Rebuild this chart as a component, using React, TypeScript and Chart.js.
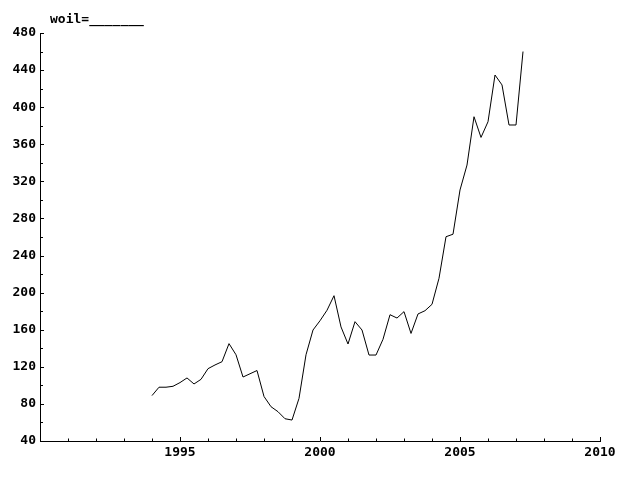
import React, { useEffect, useRef } from "react";
import { Chart, registerables } from "chart.js";

Chart.register(...registerables);

const periods: number[] = [
  1994.0, 1994.25, 1994.5, 1994.75,
  1995.0, 1995.25, 1995.5, 1995.75,
  1996.0, 1996.25, 1996.5, 1996.75,
  1997.0, 1997.25, 1997.5, 1997.75,
  1998.0, 1998.25, 1998.5, 1998.75,
  1999.0, 1999.25, 1999.5, 1999.75,
  2000.0, 2000.25, 2000.5, 2000.75,
  2001.0, 2001.25, 2001.5, 2001.75,
  2002.0, 2002.25, 2002.5, 2002.75,
  2003.0, 2003.25, 2003.5, 2003.75,
  2004.0, 2004.25, 2004.5, 2004.75,
  2005.0, 2005.25, 2005.5, 2005.75,
  2006.0, 2006.25, 2006.5, 2006.75,
  2007.0, 2007.25,
];

const woil: number[] = [
  89, 98, 98, 99,
  103, 108, 101.5, 106.5,
  118, 122, 125.5, 145,
  133, 109, 112.5, 116,
  88, 77, 71.6, 64,
  62.6, 86, 133, 159.7,
  169.7, 181, 196.7, 163,
  144.6, 168.7, 159.7, 132.7,
  132.7, 149.7, 176.2, 172.6,
  179.5, 156, 177, 180.5,
  187.4, 215.5, 260.3, 263,
  310.7, 337.6, 389.7, 367.4,
  384.3, 434.7, 424, 380.8,
  380.8, 460,
];

const seriesName = "woil";
const xMin = 1990;
const xMax = 2010;
const yMin = 40;
const yMax = 480;
const xMajorStep = 5;
const yMajorStep = 40;
const yMinorStep = 20;

const FONT = "bold 13px 'DejaVu Sans Mono', monospace";

const decorPlugin = {
  id: "decor",
  afterDraw(chart: any) {
    const ctx = chart.ctx;
    const xs = chart.scales.x;
    const ys = chart.scales.y;
    const area = chart.chartArea;
    ctx.save();
    ctx.strokeStyle = "#000";
    ctx.lineWidth = 1;
    ctx.beginPath();
    for (let v = xMin; v <= xMax; v += 1) {
      const px = Math.round(xs.getPixelForValue(v)) + 0.5;
      const len = v % xMajorStep === 0 ? 4 : 2.5;
      ctx.moveTo(px, area.bottom);
      ctx.lineTo(px, area.bottom - len);
    }
    for (let v = yMin; v <= yMax; v += yMinorStep) {
      const py = Math.round(ys.getPixelForValue(v)) + 0.5;
      const len = v % yMajorStep === 0 ? 4 : 3;
      ctx.moveTo(area.left, py);
      ctx.lineTo(area.left + len, py);
    }
    ctx.stroke();
    ctx.fillStyle = "#000";
    ctx.font = FONT;
    ctx.textBaseline = "alphabetic";
    ctx.textAlign = "left";
    ctx.fillText(seriesName + "=_______", 50, 23);
    ctx.restore();
  },
};

export default function App() {
  const ref = useRef<HTMLCanvasElement | null>(null);
  useEffect(() => {
    if (!ref.current) return;
    const data = periods.map((p, i) => ({ x: p, y: woil[i] }));
    const chart = new Chart(ref.current, {
      type: "line",
      data: {
        datasets: [
          {
            label: seriesName,
            data,
            borderColor: "#000",
            borderWidth: 1,
            pointRadius: 0,
            tension: 0,
            fill: false,
          },
        ],
      },
      options: {
        animation: false,
        responsive: true,
        maintainAspectRatio: false,
        devicePixelRatio: 1,
        layout: { padding: { top: 33, right: 40, left: 0, bottom: 0 } },
        plugins: {
          legend: { display: false },
          tooltip: { enabled: false },
          title: { display: false },
        },
        scales: {
          x: {
            type: "linear",
            min: xMin,
            max: xMax,
            afterFit: (s: any) => {
              s.height = 39;
            },
            grid: { display: false, drawTicks: false },
            border: { display: true, color: "#000", width: 1 },
            ticks: {
              stepSize: xMajorStep,
              color: "#000",
              font: { family: "'DejaVu Sans Mono', monospace", size: 13, weight: "bold" },
              padding: 4,
              maxRotation: 0,
              autoSkip: false,
              callback: (v: any) => (v === xMin ? "" : String(v)),
            },
          },
          y: {
            type: "linear",
            min: yMin,
            max: yMax,
            afterFit: (s: any) => {
              s.width = 40;
            },
            grid: { display: false, drawTicks: false },
            border: { display: true, color: "#000", width: 1 },
            ticks: {
              stepSize: yMajorStep,
              color: "#000",
              font: { family: "'DejaVu Sans Mono', monospace", size: 13, weight: "bold" },
              padding: 4,
              autoSkip: false,
              callback: (v: any) => String(v),
            },
          },
        },
      },
      plugins: [decorPlugin],
    });
    return () => chart.destroy();
  }, []);
  return (
    <div style={{ position: "absolute", left: 0, top: 0, width: 640, height: 480, background: "#fff" }}>
      <canvas ref={ref} />
    </div>
  );
}
